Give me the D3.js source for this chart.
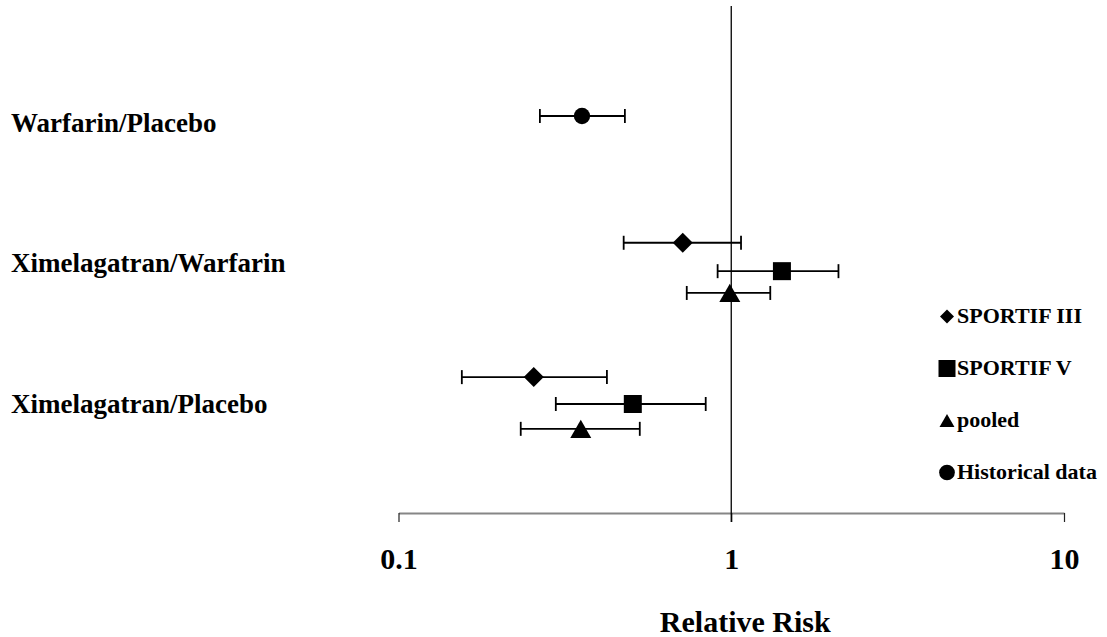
<!DOCTYPE html>
<html>
<head>
<meta charset="utf-8">
<script src="https://cdn.jsdelivr.net/npm/d3@7"></script>
<style>
body { margin: 0; background: #fff; }
</style>
</head>
<body>
<div id="main"></div>
<script>
// comparisons shown as row labels on the left
var groups = ["Warfarin/Placebo", "Ximelagatran/Warfarin", "Ximelagatran/Placebo"];
var groupLabelPos = [7.52, 4.75, 1.97];
// legend entries, in the order they are listed
var studies = ["SPORTIF III", "SPORTIF V", "pooled", "Historical data"];
// one entry per plotted row
var rowStudy = [3, 0, 1, 2, 0, 1, 2];
var rowPos = [7.83, 5.33, 4.77, 4.34, 2.68, 2.15, 1.66];
var rr = [0.356, 0.715, 1.42, 0.99, 0.255, 0.506, 0.353];
var ciLow = [0.266, 0.475, 0.91, 0.735, 0.155, 0.297, 0.233];
var ciHigh = [0.479, 1.07, 2.10, 1.31, 0.423, 0.838, 0.531];
// x axis
var xTicks = [0.1, 1, 10];
var xTickLabels = ["0.1", "1", "10"];
var xTitle = "Relative Risk";

var ctx = {
    w: 1107,
    h: 637,
    font: "'Liberation Serif', 'Times New Roman', Times, serif",
    xLeft: 398.5,
    xRight: 1064,
    axisY: 513,
    top: 6,
    capH: 7,
    legendX: 947,
    legendTextX: 957,
    legendY0: 316.5,
    legendStep: 52,
    // marker shapes per study: diamond, square, triangle, circle
    symbols: [d3.symbolSquare, d3.symbolSquare, d3.symbolTriangle, d3.symbolCircle],
    rotate: [45, 0, 0, 0],
    markSize: [200, 324, 191, 209],
    legendSize: [98, 289, 97, 194],
};

var symbolPath = function(study, size){
    return d3.symbol().type(ctx.symbols[study]).size(size)();
};

// triangle from d3 sits on its centroid, push it down so the box is centred
var symbolShift = function(study, size){
    if (study != 2) return 0;
    return Math.sqrt(size / (3 * Math.sqrt(3))) / 2;
};

var createChart = function(svgEl){
    ctx.xScale = d3.scaleLog().domain([0.1, 10]).range([ctx.xLeft, ctx.xRight]);
    ctx.yScale = d3.scaleLinear().domain([0, 10]).range([ctx.axisY, ctx.axisY - 507]);

    // x axis
    var axis = d3.axisBottom(ctx.xScale)
        .tickValues(xTicks)
        .tickFormat(function(d, i){ return xTickLabels[i]; })
        .tickSize(9)
        .tickSizeOuter(0);
    var axG = svgEl.append("g")
        .attr("transform", "translate(0," + ctx.axisY + ")")
        .call(axis);
    axG.attr("font-family", ctx.font).attr("font-size", 30).attr("font-weight", "bold");
    axG.select(".domain").attr("stroke", "#868686").attr("stroke-width", 2);
    axG.selectAll(".tick line").attr("stroke", "#222").attr("stroke-width", 1.2);
    axG.selectAll(".tick text").attr("y", 56).attr("dy", 0).attr("fill", "#000");

    // reference line at RR = 1
    svgEl.append("line")
        .attr("x1", ctx.xScale(1)).attr("x2", ctx.xScale(1))
        .attr("y1", ctx.top).attr("y2", ctx.axisY + 9)
        .attr("stroke", "#000").attr("stroke-width", 1.3);

    // axis title
    svgEl.append("text")
        .attr("x", ctx.xScale(1) + 14).attr("y", 632)
        .attr("text-anchor", "middle")
        .attr("font-family", ctx.font).attr("font-size", 30).attr("font-weight", "bold")
        .text(xTitle);

    // group labels
    svgEl.selectAll("text.group").data(groups).enter().append("text")
        .attr("class", "group")
        .attr("x", 11)
        .attr("y", function(d, i){ return ctx.yScale(groupLabelPos[i]); })
        .attr("font-family", ctx.font).attr("font-size", 27).attr("font-weight", "bold")
        .text(function(d){ return d; });

    // error bars
    var rows = rr.map(function(d, i){
        return {rr: d, lo: ciLow[i], hi: ciHigh[i], y: rowPos[i], study: rowStudy[i]};
    });
    var bars = svgEl.selectAll("g.row").data(rows).enter().append("g")
        .attr("class", "row")
        .attr("transform", function(d){ return "translate(0," + ctx.yScale(d.y) + ")"; });
    bars.append("line")
        .attr("x1", function(d){ return ctx.xScale(d.lo); })
        .attr("x2", function(d){ return ctx.xScale(d.hi); })
        .attr("y1", 0).attr("y2", 0)
        .attr("stroke", "#000").attr("stroke-width", 1.8);
    bars.append("line")
        .attr("x1", function(d){ return ctx.xScale(d.lo); })
        .attr("x2", function(d){ return ctx.xScale(d.lo); })
        .attr("y1", -ctx.capH).attr("y2", ctx.capH)
        .attr("stroke", "#000").attr("stroke-width", 1.8);
    bars.append("line")
        .attr("x1", function(d){ return ctx.xScale(d.hi); })
        .attr("x2", function(d){ return ctx.xScale(d.hi); })
        .attr("y1", -ctx.capH).attr("y2", ctx.capH)
        .attr("stroke", "#000").attr("stroke-width", 1.8);
    bars.append("path")
        .attr("d", function(d){ return symbolPath(d.study, ctx.markSize[d.study]); })
        .attr("transform", function(d){
            return "translate(" + ctx.xScale(d.rr) + "," + symbolShift(d.study, ctx.markSize[d.study]) + ") rotate(" + ctx.rotate[d.study] + ")";
        })
        .attr("fill", "#000");

    // legend
    var leg = svgEl.selectAll("g.legend").data(studies).enter().append("g")
        .attr("class", "legend")
        .attr("transform", function(d, i){ return "translate(0," + (ctx.legendY0 + i * ctx.legendStep) + ")"; });
    leg.append("path")
        .attr("d", function(d, i){ return symbolPath(i, ctx.legendSize[i]); })
        .attr("transform", function(d, i){
            return "translate(" + ctx.legendX + "," + symbolShift(i, ctx.legendSize[i]) + ") rotate(" + ctx.rotate[i] + ")";
        })
        .attr("fill", "#000");
    leg.append("text")
        .attr("x", ctx.legendTextX).attr("y", 6)
        .attr("font-family", ctx.font).attr("font-size", 22).attr("font-weight", "bold")
        .text(function(d){ return d; });
};

var createViz = function(){
    var svgEl = d3.select("#main").append("svg");
    svgEl.attr("width", ctx.w);
    svgEl.attr("height", ctx.h);
    createChart(svgEl);
};

createViz();
</script>
</body>
</html>
